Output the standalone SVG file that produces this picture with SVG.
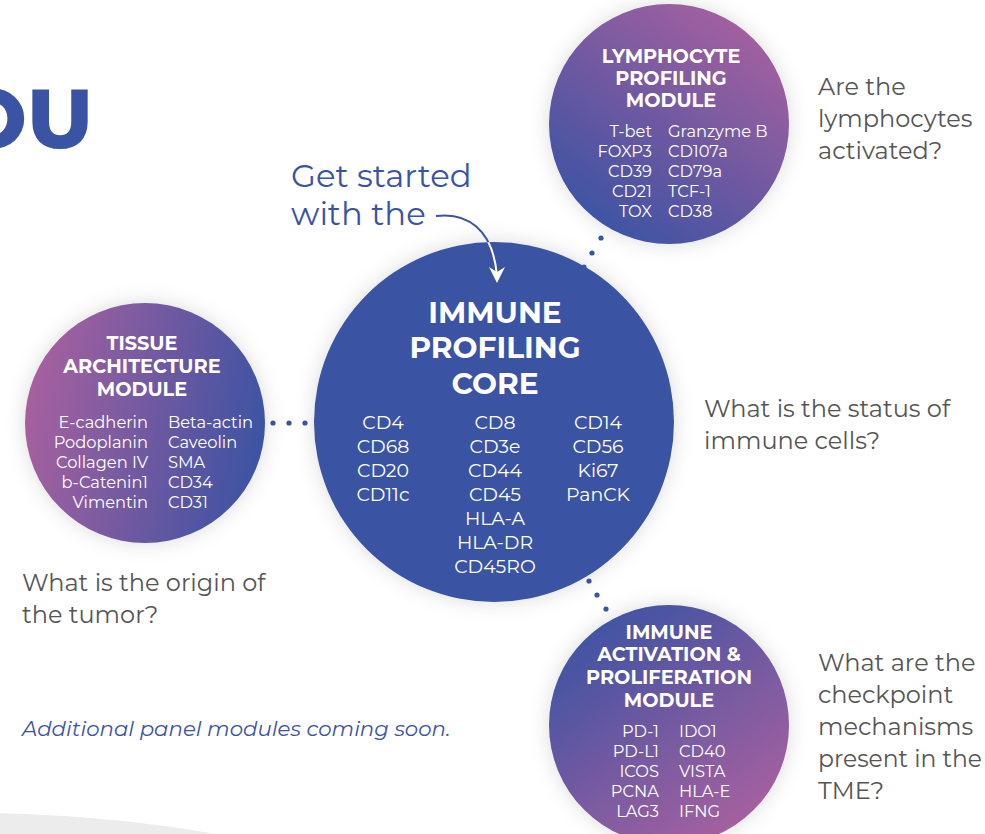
<svg xmlns="http://www.w3.org/2000/svg" width="985" height="834" viewBox="0 0 985 834">
  <defs>
    <linearGradient id="gLymph" x1="0.85" y1="0.05" x2="0.2" y2="0.95">
      <stop offset="0" stop-color="#a8609f"/>
      <stop offset="1" stop-color="#3b53a3"/>
    </linearGradient>
    <linearGradient id="gTissue" x1="0" y1="0.4" x2="1" y2="0.6">
      <stop offset="0" stop-color="#a8609f"/>
      <stop offset="1" stop-color="#3b53a3"/>
    </linearGradient>
    <linearGradient id="gAct" x1="0.15" y1="0.05" x2="0.8" y2="0.95">
      <stop offset="0" stop-color="#3b53a3"/>
      <stop offset="1" stop-color="#a8609f"/>
    </linearGradient>
    <filter id="halo" x="-30%" y="-30%" width="160%" height="160%">
      <feDropShadow dx="0" dy="0" stdDeviation="10" flood-color="#000" flood-opacity="0.14"/>
    </filter>
    <clipPath id="coreClip">
      <circle cx="494" cy="422" r="180"/>
    </clipPath>
    <style>
      .title { font-family: "Montserrat", "Noto Sans", "Liberation Sans", sans-serif; font-weight: 700; fill: #ffffff; text-anchor: middle; }
      .mk { font-family: "Montserrat", "Noto Sans", "Liberation Sans", sans-serif; fill: #ffffff; }
      .q { font-family: "Montserrat", "Noto Sans", "Liberation Sans", sans-serif; font-size: 24px; fill: #555555; }
      .dot { fill: #3b53a3; }
    </style>
  </defs>

  <rect width="985" height="834" fill="#ffffff"/>

  <!-- soft grey backdrop sweeping in at the lower left -->
  <path d="M0,813 C70,815 150,822 215,834 L0,834 Z" fill="#ececec"/>

  <!-- large headline fragment -->
  <text x="93" y="148" font-family="Montserrat, 'Noto Sans', 'Liberation Sans', sans-serif" font-weight="800" font-size="84" fill="#3b53a3" text-anchor="end">OU</text>

  <!-- intro label -->
  <g id="intro">
    <text x="291" y="187" font-family="Montserrat, 'Noto Sans', 'Liberation Sans', sans-serif" font-size="32.3" fill="#3b53a3">Get started</text>
    <text x="291" y="225" font-family="Montserrat, 'Noto Sans', 'Liberation Sans', sans-serif" font-size="32.3" fill="#3b53a3">with the</text>
  </g>

  <!-- core module -->
  <g id="core">
    <circle cx="494" cy="422" r="180" fill="#3b53a3" filter="url(#halo)"/>
    <text class="title" font-size="29.6" x="495" y="323">IMMUNE</text>
    <text class="title" font-size="29.6" x="495" y="358">PROFILING</text>
    <text class="title" font-size="29.6" x="495" y="394">CORE</text>
    <g class="mk" font-size="18.9" text-anchor="middle">
      <text x="383" y="429">CD4</text>
      <text x="383" y="453">CD68</text>
      <text x="383" y="477">CD20</text>
      <text x="383" y="501">CD11c</text>
      <text x="495" y="429">CD8</text>
      <text x="495" y="453">CD3e</text>
      <text x="495" y="477">CD44</text>
      <text x="495" y="501">CD45</text>
      <text x="495" y="525">HLA-A</text>
      <text x="495" y="549">HLA-DR</text>
      <text x="495" y="573">CD45RO</text>
      <text x="598" y="429">CD14</text>
      <text x="598" y="453">CD56</text>
      <text x="598" y="477">Ki67</text>
      <text x="598" y="501">PanCK</text>
    </g>
  </g>

  <!-- lymphocyte module -->
  <g id="lymphocyte">
    <circle cx="669" cy="124" r="120" fill="url(#gLymph)" filter="url(#halo)"/>
    <text class="title" font-size="19.3" x="671" y="63">LYMPHOCYTE</text>
    <text class="title" font-size="19.3" x="671" y="85">PROFILING</text>
    <text class="title" font-size="19.3" x="671" y="107">MODULE</text>
    <g class="mk" font-size="16.3">
      <g text-anchor="end">
        <text x="652" y="137">T-bet</text>
        <text x="652" y="157">FOXP3</text>
        <text x="652" y="177">CD39</text>
        <text x="652" y="197">CD21</text>
        <text x="652" y="217">TOX</text>
      </g>
      <text x="668" y="137">Granzyme B</text>
      <text x="668" y="157">CD107a</text>
      <text x="668" y="177">CD79a</text>
      <text x="668" y="197">TCF-1</text>
      <text x="668" y="217">CD38</text>
    </g>
  </g>

  <!-- tissue architecture module -->
  <g id="tissue">
    <circle cx="145" cy="423" r="120" fill="url(#gTissue)" filter="url(#halo)"/>
    <text class="title" font-size="19.3" x="142" y="350">TISSUE</text>
    <text class="title" font-size="19.3" x="142" y="373">ARCHITECTURE</text>
    <text class="title" font-size="19.3" x="142" y="396">MODULE</text>
    <g class="mk" font-size="16.3">
      <g text-anchor="end">
        <text x="148" y="428">E-cadherin</text>
        <text x="148" y="448">Podoplanin</text>
        <text x="148" y="468">Collagen IV</text>
        <text x="148" y="488">b-Catenin1</text>
        <text x="148" y="508">Vimentin</text>
      </g>
      <text x="168" y="428">Beta-actin</text>
      <text x="168" y="448">Caveolin</text>
      <text x="168" y="468">SMA</text>
      <text x="168" y="488">CD34</text>
      <text x="168" y="508">CD31</text>
    </g>
  </g>

  <!-- immune activation & proliferation module -->
  <g id="activation">
    <circle cx="669" cy="725" r="120" fill="url(#gAct)" filter="url(#halo)"/>
    <text class="title" font-size="19.3" x="669" y="639">IMMUNE</text>
    <text class="title" font-size="19.3" x="669" y="661">ACTIVATION &amp;</text>
    <text class="title" font-size="19.3" x="669" y="684">PROLIFERATION</text>
    <text class="title" font-size="19.3" x="669" y="707">MODULE</text>
    <g class="mk" font-size="16.3">
      <g text-anchor="end">
        <text x="659" y="737">PD-1</text>
        <text x="659" y="757">PD-L1</text>
        <text x="659" y="777">ICOS</text>
        <text x="659" y="797">PCNA</text>
        <text x="659" y="817">LAG3</text>
      </g>
      <text x="679" y="737">IDO1</text>
      <text x="679" y="757">CD40</text>
      <text x="679" y="777">VISTA</text>
      <text x="679" y="797">HLA-E</text>
      <text x="679" y="817">IFNG</text>
    </g>
  </g>

  <!-- connectors: dotted links and the intro arrow -->
  <g id="connectors">
    <circle class="dot" cx="273" cy="423" r="2.6"/>
    <circle class="dot" cx="289" cy="423" r="2.6"/>
    <circle class="dot" cx="305" cy="423" r="2.6"/>

    <circle class="dot" cx="601" cy="238" r="2.6"/>
    <circle class="dot" cx="592" cy="253" r="2.6"/>
    <circle class="dot" cx="584" cy="267" r="2.6"/>

    <circle class="dot" cx="589" cy="581" r="2.6"/>
    <circle class="dot" cx="597" cy="595" r="2.6"/>
    <circle class="dot" cx="606" cy="609" r="2.6"/>

    <path d="M436,216 C466,212 493,228 497,276" fill="none" stroke="#3b53a3" stroke-width="2"/>
    <g clip-path="url(#coreClip)">
      <path d="M436,216 C466,212 493,228 497,276" fill="none" stroke="#ffffff" stroke-width="2"/>
    </g>
    <path d="M489,267 L497,283 L505,267 L497,272 Z" fill="#ffffff"/>
  </g>

  <!-- questions -->
  <g id="questions">
    <text class="q" x="818" y="95">Are the</text>
    <text class="q" x="818" y="127">lymphocytes</text>
    <text class="q" x="818" y="159">activated?</text>
    <text class="q" x="704" y="417">What is the status of</text>
    <text class="q" x="704" y="449">immune cells?</text>
    <text class="q" x="22" y="591">What is the origin of</text>
    <text class="q" x="22" y="623">the tumor?</text>
    <text class="q" x="818" y="671">What are the</text>
    <text class="q" x="818" y="703">checkpoint</text>
    <text class="q" x="818" y="735">mechanisms</text>
    <text class="q" x="818" y="767" textLength="164" lengthAdjust="spacingAndGlyphs">present in the</text>
    <text class="q" x="818" y="799">TME?</text>
  </g>

  <text x="22" y="736" font-family="Montserrat, 'Noto Sans', 'Liberation Sans', sans-serif" font-style="italic" font-size="21.3" fill="#3b53a3">Additional panel modules coming soon.</text>
</svg>
